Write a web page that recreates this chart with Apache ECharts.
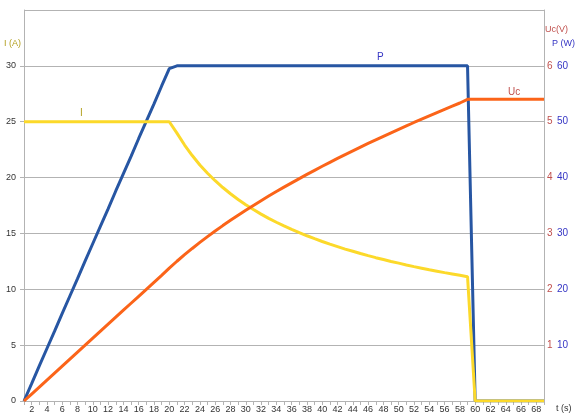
<!DOCTYPE html>
<html>
<head>
<meta charset="utf-8">
<script src="https://cdn.jsdelivr.net/npm/echarts@6/dist/echarts.min.js"></script>
<style>html,body{margin:0;padding:0;background:#fff}#c{width:575px;height:420px}</style>
</head>
<body>
<div id="c"></div>
<script>
// time categories (s)
var timeCats = ['1','2','3','4','5','6','7','8','9','10','11','12','13','14','15','16','17','18','19','20',
'21','22','23','24','25','26','27','28','29','30','31','32','33','34','35','36','37','38','39','40',
'41','42','43','44','45','46','47','48','49','50','51','52','53','54','55','56','57','58','59','60',
'61','62','63','64','65','66','67','68','69'];

// current I (A)
var currentI = [25,25,25,25,25,25,25,25,25,25,25,25,25,25,25,25,25,25,25,25,
23.98,22.91,21.97,21.13,20.39,19.72,19.11,18.55,18.04,17.57,17.14,16.73,16.35,16.00,15.67,15.36,15.07,14.79,14.53,14.28,
14.04,13.82,13.60,13.40,13.20,13.01,12.83,12.66,12.49,12.34,12.18,12.03,11.89,11.75,11.62,11.49,11.37,11.25,11.13,0,
0,0,0,0,0,0,0,0,0];

// power P (W)
var powerP = [0,3.1,6.3,9.4,12.5,15.7,18.8,21.9,25.1,28.2,31.3,34.4,37.6,40.7,43.8,47.0,50.1,53.2,56.4,59.5,
60,60,60,60,60,60,60,60,60,60,60,60,60,60,60,60,60,60,60,60,
60,60,60,60,60,60,60,60,60,60,60,60,60,60,60,60,60,60,60,0,
0,0,0,0,0,0,0,0,0];

// capacitor voltage Uc (V)
var voltageUc = [0,0.125,0.25,0.375,0.5,0.625,0.75,0.875,1.0,1.125,1.25,1.375,1.5,1.625,1.75,1.875,2.0,2.125,2.25,2.38,
2.502,2.619,2.731,2.839,2.943,3.043,3.140,3.234,3.326,3.415,3.501,3.586,3.669,3.750,3.829,3.906,3.982,4.057,4.130,4.202,
4.273,4.343,4.411,4.479,4.545,4.611,4.675,4.739,4.802,4.864,4.925,4.986,5.046,5.105,5.163,5.221,5.278,5.335,5.40,5.40,
5.40,5.40,5.40,5.40,5.40,5.40,5.40,5.40,5.40];

var FONT = 'Liberation Sans';
var colI = '#fcd92a', colP = '#2756a3', colUc = '#fb6419';
var txtI = '#b3a020', txtP = '#3535c4', txtUc = '#c0504d';

var chart = echarts.init(document.getElementById('c'), null, {renderer: 'canvas'});
chart.setOption({
  animation: false,
  backgroundColor: '#fff',
  grid: {left: 24, right: 31, top: 10, bottom: 19, containLabel: false},
  xAxis: {
    type: 'category', data: timeCats, boundaryGap: false,
    axisLine: {lineStyle: {color: '#b3b3b3', width: 1}},
    axisTick: {show: true, interval: 0, length: 4, lineStyle: {color: '#b3b3b3'}},
    axisLabel: {interval: function (i) { return i % 2 === 1; }, fontFamily: FONT, fontSize: 9, color: '#333', margin: 4},
    splitLine: {show: false}
  },
  yAxis: [
    {
      type: 'value', min: 0, max: 35, interval: 5, position: 'left',
      axisLine: {show: true, lineStyle: {color: '#b3b3b3'}},
      axisTick: {show: true, length: 4, lineStyle: {color: '#b3b3b3'}},
      axisLabel: {showMaxLabel: false, fontFamily: FONT, fontSize: 9, color: '#333', margin: 8},
      splitLine: {show: true, lineStyle: {color: '#b3b3b3', width: 1}}
    },
    {
      type: 'value', min: 0, max: 7, interval: 1, position: 'right',
      axisLine: {show: true, lineStyle: {color: '#b3b3b3'}},
      axisTick: {show: false},
      axisLabel: {showMaxLabel: false, showMinLabel: false, fontFamily: FONT, fontSize: 10, color: txtUc, margin: 3, padding: [0, 0, 3, 0]},
      splitLine: {show: false}
    },
    {
      type: 'value', min: 0, max: 70, interval: 10, position: 'right',
      axisLine: {show: false},
      axisTick: {show: false},
      axisLabel: {showMaxLabel: false, showMinLabel: false, fontFamily: FONT, fontSize: 10, color: txtP, margin: 13, padding: [8, 0, 0, 0]},
      splitLine: {show: false}
    }
  ],
  series: [
    {name: 'P', type: 'line', yAxisIndex: 2, data: powerP, symbol: 'none', z: 2,
     lineStyle: {color: colP, width: 3}},
    {name: 'I', type: 'line', yAxisIndex: 0, data: currentI, symbol: 'none', z: 3,
     lineStyle: {color: colI, width: 3}},
    {name: 'Uc', type: 'line', yAxisIndex: 1, data: voltageUc, symbol: 'none', z: 4,
     lineStyle: {color: colUc, width: 3}}
  ],
  graphic: [
    {type: 'text', left: 4, top: 39, style: {text: 'I (A)', fontFamily: FONT, fontSize: 9, fill: txtI}},
    {type: 'text', left: 545, top: 25, style: {text: 'Uc(V)', fontFamily: FONT, fontSize: 9, fill: txtUc}},
    {type: 'text', left: 552, top: 39, style: {text: 'P (W)', fontFamily: FONT, fontSize: 9, fill: txtP}},
    {type: 'text', left: 556, top: 404, style: {text: 't (s)', fontFamily: FONT, fontSize: 9, fill: '#333'}},
    {type: 'text', left: 80, top: 108, style: {text: 'I', fontFamily: FONT, fontSize: 10, fill: txtI}},
    {type: 'text', left: 377, top: 52, style: {text: 'P', fontFamily: FONT, fontSize: 10, fill: txtP}},
    {type: 'text', left: 508, top: 87, style: {text: 'Uc', fontFamily: FONT, fontSize: 10, fill: txtUc}}
  ]
});
</script>
</body>
</html>
